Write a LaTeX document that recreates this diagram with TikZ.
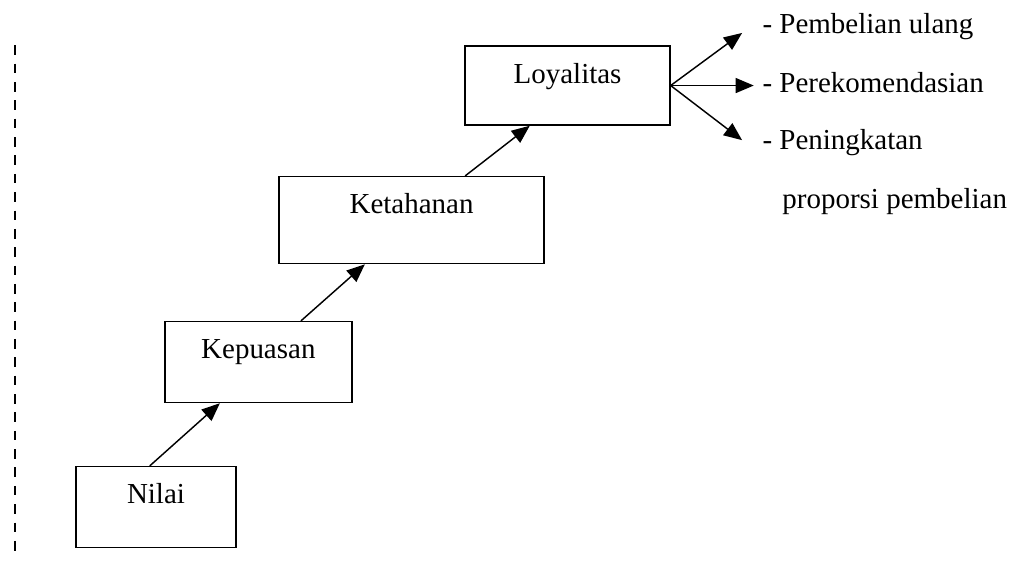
\documentclass[tikz,border=0pt]{standalone}
\usepackage{fontspec}
\setmainfont{Liberation Serif}
\usetikzlibrary{arrows.meta}

\begin{document}
\begin{tikzpicture}[>={Triangle[length=7.5pt,width=6.2pt]}, every node/.style={font=\fontsize{12}{14}\selectfont}]

    \tikzstyle{box}=[rectangle, draw, line width=0.6pt, inner sep=0pt, anchor=north, text height=15.3pt]
    \tikzstyle{item}=[inner sep=0pt, anchor=base west]
    \tikzstyle{conn}=[->, line width=0.6pt]

    \useasboundingbox (0,0) rectangle (14.83,8.18);

    % DASHED LINE
    \coordinate (dtop) at (0.22,7.52);
    \coordinate (dbot) at (0.22,0.07);
    \draw[line width=1.1pt, dash pattern=on 4pt off 3.6pt] (dtop) -- (dbot);

    % BOXES
    \node(nilai) at (2.27,1.40) [box, minimum width=2.33cm, text depth=18.2pt] {Nilai};
    \node(kep) at (3.76,3.51) [box, minimum width=2.72cm, text depth=18.2pt] {Kepuasan};
    \node(ket) at (5.99,5.62) [box, minimum width=3.86cm, text depth=20.7pt] {Ketahanan};
    \node(loy) at (8.26,7.52) [box, minimum width=2.98cm, text depth=17.4pt] {Loyalitas};

    % STEPS
    \draw[conn] ([xshift=-0.09cm]nilai.north) -- ([xshift=-0.56cm]kep.south);
    \draw[conn] ([xshift=0.62cm]kep.north) -- ([xshift=-0.68cm]ket.south);
    \draw[conn] ([xshift=0.78cm]ket.north) -- ([xshift=-0.55cm]loy.south);

    % OUTCOMES
    \node(pem) at (11.09,7.69) [item] {- Pembelian ulang};
    \node(rek) at (11.09,6.84) [item] {- Perekomendasian};
    \node(pen) at (11.09,6.00) [item] {- Peningkatan};
    \node(pro) at (11.38,5.15) [item] {proporsi pembelian};

    \coordinate (r1) at (10.80,7.70);
    \coordinate (r3) at (10.80,6.14);
    \draw[conn] (loy.east) -- (r1);
    \draw[conn] (loy.east) -- ([xshift=-0.12cm]rek.west |- loy.east);
    \draw[conn] (loy.east) -- (r3);

\end{tikzpicture}
\end{document}
